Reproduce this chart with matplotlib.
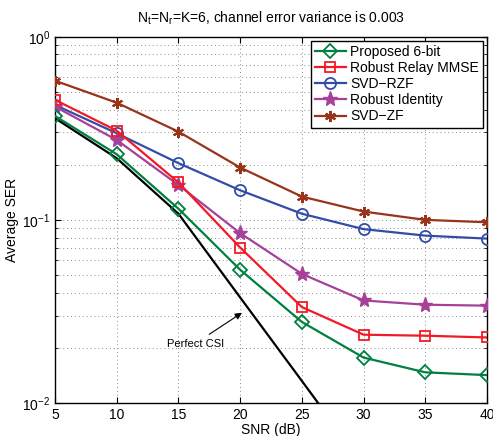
import matplotlib
matplotlib.use("Agg")
import matplotlib.pyplot as plt
from matplotlib.ticker import LogLocator, NullFormatter

plt.rcParams['font.family'] = ['Liberation Sans', 'DejaVu Sans']

snr = [5, 10, 15, 20, 25, 30, 35, 40]
proposed = [0.369, 0.228, 0.115, 0.0534, 0.0277, 0.0177, 0.0147, 0.0142]
relay_mmse = [0.452, 0.307, 0.160, 0.0706, 0.0334, 0.0236, 0.0233, 0.0228]
svd_rzf = [0.424, 0.297, 0.204, 0.145, 0.108, 0.089, 0.082, 0.079]
robust_identity = [0.415, 0.273, 0.155, 0.0846, 0.0507, 0.0363, 0.0344, 0.0340]
svd_zf = [0.575, 0.436, 0.303, 0.193, 0.134, 0.111, 0.100, 0.097]
snr_perfect = [5, 10, 15, 20, 25, 30]
perfect_csi = [0.359, 0.217, 0.108, 0.0377, 0.0132, 0.0046]

fig = plt.figure(figsize=(4.93, 4.36), dpi=100)
ax = fig.add_axes([0.1116, 0.0757, 0.8762, 0.8401])

green = (0.0, 0.5, 0.25)
red = (0.95, 0.1, 0.15)
blue = (0.2, 0.3, 0.65)
purple = (0.65, 0.25, 0.6)
brown = (0.6, 0.2, 0.1)

lw = 1.6
ax.plot(snr_perfect, perfect_csi, color='black', lw=lw)
ax.plot(snr, svd_zf, color=brown, lw=lw, marker=(6, 2, 0), ms=8, mew=1.5, label='SVD\u2212ZF', zorder=3)
ax.plot(snr, svd_rzf, color=blue, lw=lw, marker='o', ms=8, mfc='none', mew=1.3, label='SVD\u2212RZF', zorder=3)
ax.plot(snr, robust_identity, color=purple, lw=lw, marker='*', ms=11, mfc=purple, mew=1, label='Robust Identity', zorder=3)
ax.plot(snr, relay_mmse, color=red, lw=lw, marker='s', ms=7, mfc='none', mew=1.3, label='Robust Relay MMSE', zorder=3)
ax.plot(snr, proposed, color=green, lw=lw, marker='D', ms=7, mfc='none', mew=1.3, label='Proposed 6-bit', zorder=3)

ax.set_yscale('log')
ax.set_xlim(5, 40)
ax.set_ylim(1e-2, 1)
ax.set_xticks(snr)
ax.yaxis.set_minor_locator(LogLocator(base=10, subs=range(2, 10)))
ax.yaxis.set_minor_formatter(NullFormatter())
ax.grid(True, which='major', ls=(0, (1, 3)), color='0.55', lw=0.7)
ax.grid(True, which='minor', axis='y', ls=(0, (1, 3)), color='0.55', lw=0.7)
ax.tick_params(which='both', direction='in', top=True, right=True, labelsize=10)
ax.tick_params(which='major', length=4)
ax.tick_params(which='minor', length=2)
for s in ax.spines.values():
    s.set_linewidth(1.0)

ax.set_xlabel('SNR (dB)', fontsize=10, labelpad=1)
ax.set_ylabel('Average SER', fontsize=10, labelpad=2)
ax.set_title('N$_\\mathregular{t}$=N$_\\mathregular{r}$=K=6, channel error variance is 0.003', fontsize=10, pad=10)

handles, labels = ax.get_legend_handles_labels()
order = ['Proposed 6-bit', 'Robust Relay MMSE', 'SVD\u2212RZF', 'Robust Identity', 'SVD\u2212ZF']
hmap = dict(zip(labels, handles))
leg = ax.legend([hmap[k] for k in order], order, loc='upper right', fontsize=10,
                fancybox=False, framealpha=1, edgecolor='black', borderpad=0.3,
                labelspacing=0.15, handlelength=2.2, handletextpad=0.3, borderaxespad=0.3)
leg.get_frame().set_linewidth(1.0)

ax.annotate('Perfect CSI', xy=(20.15, 0.0311), xytext=(16.35, 0.0211),
            fontsize=8, ha='center', va='center',
            arrowprops=dict(arrowstyle='-|>', color='black', lw=0.8, shrinkA=2, shrinkB=0, mutation_scale=10))

fig.savefig('out.png', dpi=100)
